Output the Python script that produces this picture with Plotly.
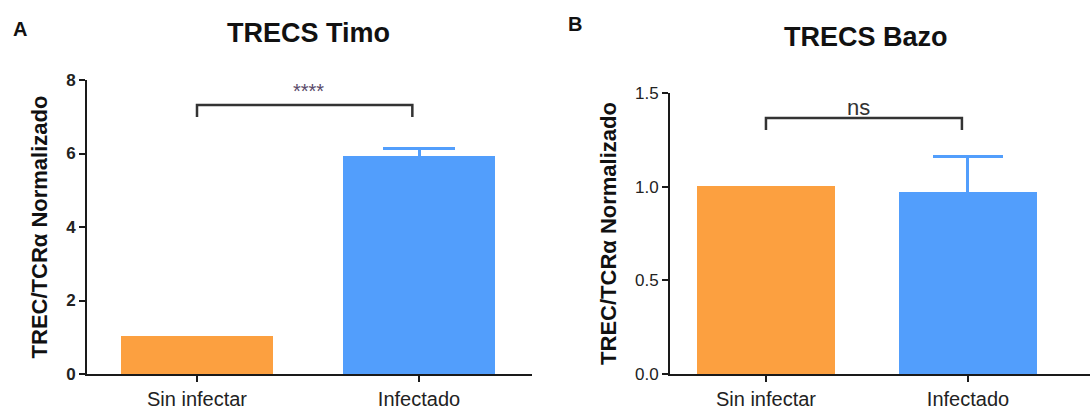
import plotly.graph_objects as go

W, H = 1090, 410

categories = ["Sin infectar", "Infectado"]
timo_values = [1.04, 5.94]
timo_err = [0.0, 0.20]
bazo_values = [1.005, 0.973]
bazo_err = [0.0, 0.19]
timo_ticks = [0, 2, 4, 6, 8]
bazo_ticks = [0.0, 0.5, 1.0, 1.5]
bazo_ticklabels = ["0.0", "0.5", "1.0", "1.5"]
colors = ["#FCA040", "#529EFC"]

FONT = "Liberation Sans, Arial, sans-serif"

fig = go.Figure()


def px_x(p):
    return p / W


def px_y(p):
    return 1 - p / H


for i in range(2):
    fig.add_trace(go.Bar(
        x=[i], y=[timo_values[i]], marker=dict(color=colors[i], line=dict(width=0)),
        width=0.685, xaxis="x", yaxis="y", showlegend=False, hoverinfo="skip",
        error_y=dict(type="data", array=[timo_err[i]], visible=timo_err[i] > 0,
                     color=colors[i], thickness=3, width=36),
    ))
    fig.add_trace(go.Bar(
        x=[i], y=[bazo_values[i]], marker=dict(color=colors[i], line=dict(width=0)),
        width=0.683, xaxis="x2", yaxis="y2", showlegend=False, hoverinfo="skip",
        error_y=dict(type="data", array=[bazo_err[i]], visible=bazo_err[i] > 0,
                     color=colors[i], thickness=3, width=35),
    ))

xtick_font = dict(family=FONT, size=20, color="#222")
ytitle_font = dict(family=FONT, size=22, color="#111")

common_x = dict(
    tickvals=[0, 1], ticktext=categories,
    showline=True, linecolor="#1a1a1a", linewidth=2,
    ticks="outside", ticklen=6, tickwidth=2, tickcolor="#1a1a1a",
    showgrid=False, zeroline=False, tickfont=xtick_font, automargin=False,
)
common_y = dict(
    showline=True, linecolor="#1a1a1a", linewidth=2,
    ticks="outside", ticklen=6, tickwidth=2, tickcolor="#1a1a1a",
    showgrid=False, zeroline=False, automargin=False,
    tickfont=dict(family=FONT, size=17, color="#222"),
)

fig.update_layout(
    width=W, height=H,
    margin=dict(l=0, r=0, t=0, b=0),
    paper_bgcolor="white", plot_bgcolor="white",
    bargap=0,
    xaxis=dict(domain=[px_x(87), px_x(532)], anchor="y", range=[-0.4955, 1.509], **common_x),
    yaxis=dict(
        domain=[px_y(374), px_y(80)], anchor="x",
        range=[0, 8], tickvals=timo_ticks,
        ticktext=[f"<b>{v}</b>" for v in timo_ticks],
        title=dict(text="<b>TREC/TCRα Normalizado</b>", standoff=12, font=ytitle_font),
        **common_y,
    ),
    xaxis2=dict(domain=[px_x(670), 1.0], anchor="y2", range=[-0.475, 1.604], **common_x),
    yaxis2=dict(
        domain=[px_y(374), px_y(93)], anchor="x2",
        range=[0, 1.5], tickvals=bazo_ticks, ticktext=bazo_ticklabels,
        title=dict(text="<b>TREC/TCRα Normalizado</b>", standoff=12, font=ytitle_font),
        **common_y,
    ),
)

bracket_a = dict(x0=0, x1=0.97, y_top=7.32, y_bot=6.99, label="****")
bracket_b = dict(x0=0, x1=0.97, y_top=1.367, y_bot=1.303, label="ns")

for br, xr, yr in [(bracket_a, "x", "y"), (bracket_b, "x2", "y2")]:
    fig.add_shape(type="path",
                  path=f"M {br['x0']},{br['y_bot']} L {br['x0']},{br['y_top']} L {br['x1']},{br['y_top']} L {br['x1']},{br['y_bot']}",
                  xref=xr, yref=yr, line=dict(color="#333", width=2.5))

fig.add_annotation(x=0.5, y=bracket_a["y_top"], xref="x", yref="y", text=bracket_a["label"],
                   showarrow=False, yanchor="bottom", yshift=1,
                   font=dict(family=FONT, size=20, color="#5a4a6a"))
fig.add_annotation(x=0.46, y=bracket_b["y_top"], xref="x2", yref="y2", text=bracket_b["label"],
                   showarrow=False, yanchor="bottom", yshift=-4,
                   font=dict(family=FONT, size=22, color="#333"))

title_font = dict(family=FONT, size=27, color="#111")
fig.add_annotation(x=px_x(308), y=px_y(33), xref="paper", yref="paper", text="<b>TRECS Timo</b>",
                   showarrow=False, xanchor="center", yanchor="middle", font=title_font)
fig.add_annotation(x=px_x(866), y=px_y(37), xref="paper", yref="paper", text="<b>TRECS Bazo</b>",
                   showarrow=False, xanchor="center", yanchor="middle", font=title_font)
letter_font = dict(family=FONT, size=20, color="#111")
fig.add_annotation(x=px_x(20), y=px_y(29), xref="paper", yref="paper", text="<b>A</b>",
                   showarrow=False, xanchor="center", yanchor="middle", font=letter_font)
fig.add_annotation(x=px_x(575), y=px_y(24), xref="paper", yref="paper", text="<b>B</b>",
                   showarrow=False, xanchor="center", yanchor="middle", font=letter_font)

fig.write_html("out.html", config={"displayModeBar": False},
               post_script="document.body.style.margin='0';document.body.style.overflow='hidden';")
